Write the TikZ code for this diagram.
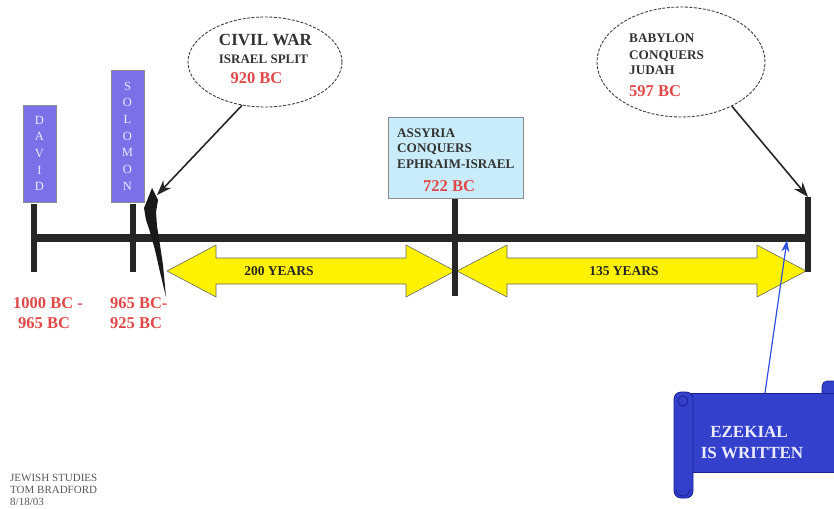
\documentclass[tikz,border=0pt]{standalone}
\usepackage{fontspec}
\setmainfont{Liberation Serif}
\usetikzlibrary{arrows.meta,shapes.geometric}
\definecolor{redtxt}{HTML}{E04848}
\definecolor{kingblue}{HTML}{7B70E8}
\definecolor{kingtxt}{HTML}{ECEAFF}
\definecolor{skyfill}{HTML}{C8ECFA}
\definecolor{scrollblue}{HTML}{3340CC}
\definecolor{scrolledge}{HTML}{1A2090}
\definecolor{ptrblue}{HTML}{3050E0}
\definecolor{textgray}{HTML}{333333}
\tikzset{
  kingbox/.style={rectangle, draw=black!45, line width=0.6pt, fill=kingblue, text=kingtxt, align=center, inner sep=0pt},
  bubble/.style={ellipse, draw=black!75, dash pattern=on 3pt off 1.5pt, line width=0.9pt, fill=white, inner sep=0pt},
  lbl/.style={anchor=base west, inner sep=0pt, text=textgray, font=\bfseries\fontsize{13.2}{15}\selectfont},
  biglbl/.style={anchor=base, inner sep=0pt, text=textgray, font=\bfseries\fontsize{17}{19}\selectfont},
  redlbl/.style={anchor=base west, inner sep=0pt, text=redtxt, font=\bfseries\fontsize{16.5}{18}\selectfont},
  ticky/.style={line width=5.5pt, draw=black!85},
  axisline/.style={line width=7.5pt, draw=black!85},
  yarrow/.style={fill=yellow, draw=black!60, line width=0.6pt, line join=miter},
  yrlbl/.style={inner sep=0pt, text=black!85, font=\bfseries\fontsize{13.5}{15}\selectfont},
  ptr/.style={line width=1.6pt, draw=black!85, -{Stealth[length=15pt,width=11pt]}},
  bluptr/.style={line width=1.2pt, draw=ptrblue, -{Stealth[length=12pt,width=8pt]}},
  scrolltxt/.style={inner sep=0pt, text=kingtxt, font=\bfseries\fontsize{17}{19}\selectfont},
  foot/.style={anchor=base west, inner sep=0pt, text=black!65, font=\fontsize{11}{12}\selectfont},
}
\begin{document}
\begin{tikzpicture}[x=1pt,y=-1pt]
\clip (0,0) rectangle (834,508);
\fill[white] (0,0) rectangle (834,508);

% ---- yellow double arrows
\draw[yarrow] (167,271) -- (216,245) -- (216,258) -- (406,258) -- (406,245) -- (455,271)
  -- (406,297) -- (406,284) -- (216,284) -- (216,297) -- cycle;
\draw[yarrow] (457,271) -- (507,245) -- (507,258) -- (757,258) -- (757,245) -- (806,271)
  -- (757,297) -- (757,284) -- (507,284) -- (507,297) -- cycle;
\node[yrlbl] (yrs200) at (279,271) {200 YEARS};
\node[yrlbl] (yrs135) at (624,271) {135 YEARS};

% ---- timeline
\coordinate (axL) at (33,238);
\coordinate (axR) at (811,238);
\draw[axisline] (axL) -- (axR);
\coordinate (dT) at (34,204);  \coordinate (dB) at (34,272);
\coordinate (sT) at (133,204); \coordinate (sB) at (133,272);
\coordinate (aT) at (455,197); \coordinate (aB) at (455,296);
\coordinate (eT) at (808,197); \coordinate (eB) at (808,272);
\draw[ticky] (dT) -- (dB);
\draw[ticky] (sT) -- (sB);
\draw[ticky] (aT) -- (aB);
\draw[ticky] (eT) -- (eB);

% ---- king boxes
\node[kingbox, minimum width=33pt, minimum height=97pt,
      font=\fontsize{12.5}{16.7}\selectfont] (david) at (39.5,153.5) {D\\A\\V\\I\\D};
\node[kingbox, minimum width=33pt, minimum height=132pt,
      font=\fontsize{12.5}{16.7}\selectfont] (solomon) at (127.5,136) {S\\O\\L\\O\\M\\O\\N};

% ---- lightning bolt
\fill[black!90] (152,188) -- (158,200) -- (156,212) -- (157,226) -- (160,245) -- (163,265)
  -- (166,297) -- (160,272) -- (155,250) -- (150,232) -- (146,220) -- (144,208) -- cycle;
\coordinate (bolttop) at (157,195);

% ---- red date labels
\node[redlbl] (d1a) at (13,308) {1000 BC -};
\node[redlbl] (d1b) at (18,328) {965 BC};
\node[redlbl] (d2a) at (110,308) {965 BC-};
\node[redlbl] (d2b) at (110,328) {925 BC};

% ---- civil war bubble
\node[bubble, minimum width=154pt, minimum height=90pt] (civil) at (265,62) {};
\node[biglbl] (civA) at (265.5,46) {CIVIL WAR};
\node[lbl, anchor=base, font=\bfseries\fontsize{13}{15}\selectfont] (civB) at (263.5,64) {ISRAEL SPLIT};
\node[redlbl, anchor=base] (civC) at (256.5,84) {920 BC};
\draw[ptr] (civil.242) -- (bolttop);

% ---- Assyria box
\node[rectangle, draw=black!45, line width=0.6pt, fill=skyfill, minimum width=135pt, minimum height=81pt, inner sep=0pt] (assyria) at (455.5,157.5) {};
\node[lbl] (asA) at (397,137.5) {ASSYRIA};
\node[lbl] (asB) at (397,152) {CONQUERS};
\node[lbl] (asC) at (397,168) {EPHRAIM-ISRAEL};
\node[redlbl] (asD) at (423,191) {722 BC};

% ---- Babylon bubble
\node[bubble, minimum width=168pt, minimum height=110pt] (babylon) at (681,62) {};
\node[lbl] (bbA) at (629,42.5) {BABYLON};
\node[lbl] (bbB) at (629,59.5) {CONQUERS};
\node[lbl] (bbC) at (629,75) {JUDAH};
\node[redlbl] (bbD) at (629,96) {597 BC};
\draw[ptr] (babylon.-41) -- (eT);

% ---- scroll
\fill[scrollblue, draw=scrolledge, line width=0.6pt, rounded corners=5pt] (822,381) rectangle (840,402);
\fill[scrollblue, draw=scrolledge, line width=0.6pt] (686,393) rectangle (840,472);
\fill[scrollblue, draw=scrolledge, line width=0.8pt, rounded corners=7pt] (674,392) rectangle (693,498);
\draw[scrolledge, line width=0.8pt] (683,401) circle (5pt);
\draw[scrolledge, line width=0.8pt] (676,489) arc (180:360:7pt);
\node[scrolltxt] (ezA) at (749,432) {EZEKIAL};
\node[scrolltxt] (ezB) at (752,453) {IS WRITTEN};
\coordinate (scrolltop) at (765,393);
\coordinate (ezTarget) at (787,240);
\draw[bluptr] (scrolltop) -- (ezTarget);

% ---- footer
\node[foot] (ftA) at (10,481) {JEWISH STUDIES};
\node[foot] (ftB) at (10,493) {TOM BRADFORD};
\node[foot] (ftC) at (10,505) {8/18/03};
\end{tikzpicture}
\end{document}
